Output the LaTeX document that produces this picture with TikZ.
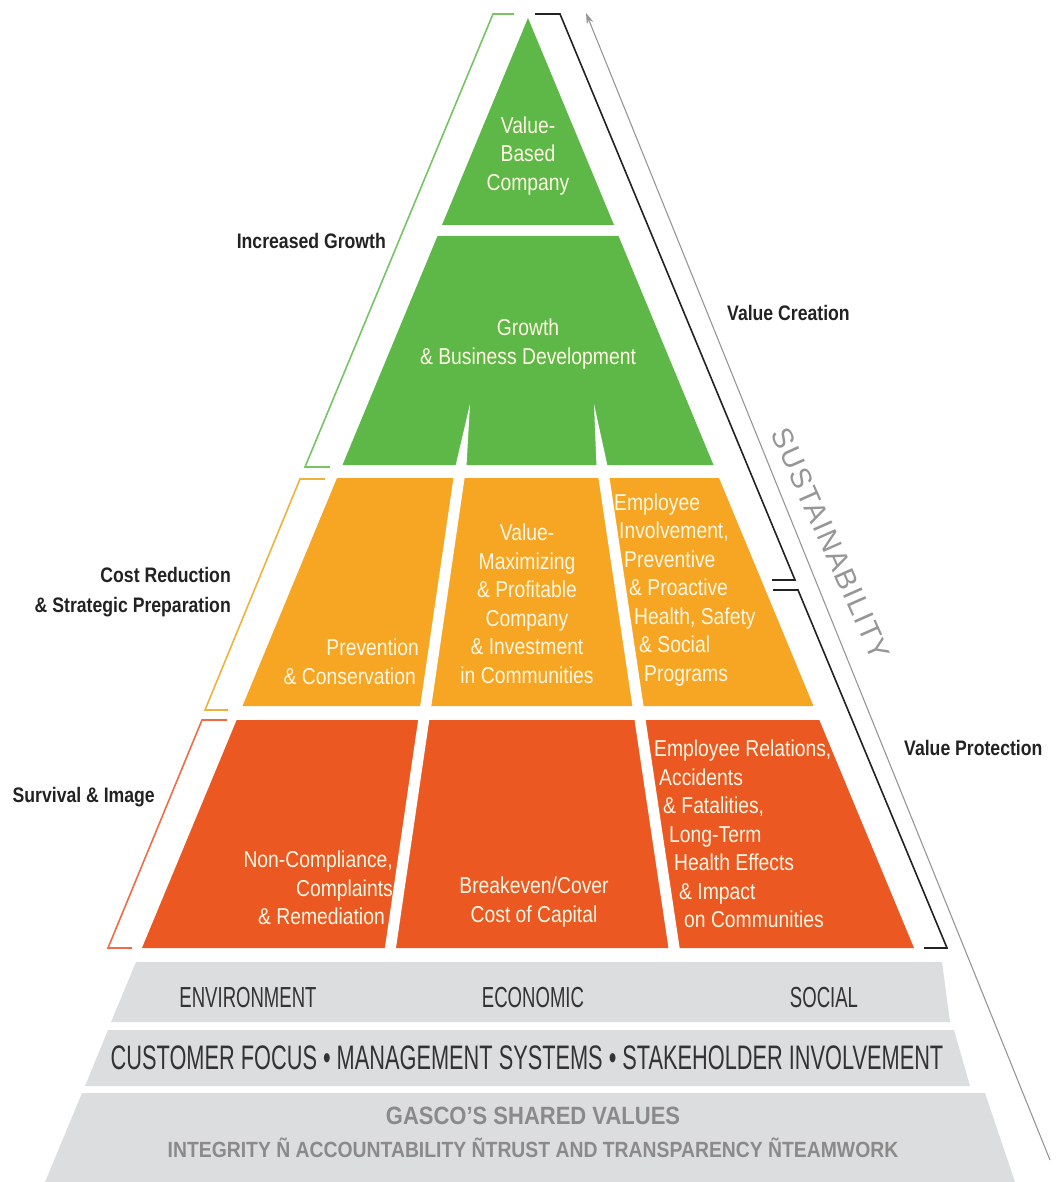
\documentclass[tikz,border=0pt]{standalone}
\usepackage{fontspec}
\setmainfont{Liberation Sans}
\newfontfamily\blockfont{Liberation Sans}[FakeStretch=0.84]
\newfontfamily\labelfont{Liberation Sans}[FakeStretch=0.84]
\newfontfamily\bandfont{Liberation Sans}[FakeStretch=0.64]
\newfontfamily\valuefont{Liberation Sans}[FakeStretch=0.88]
\newfontfamily\sustfont{Liberation Sans}[LetterSpace=5]
\usetikzlibrary{arrows.meta}

\definecolor{pyrgreen}{RGB}{94,184,72}
\definecolor{pyrorange}{RGB}{246,166,35}
\definecolor{pyrred}{RGB}{235,88,34}
\definecolor{bandgray}{RGB}{220,221,223}
\definecolor{blocktext}{RGB}{255,247,228}
\definecolor{labelgray}{RGB}{34,34,34}
\definecolor{bandtext}{RGB}{51,51,51}
\definecolor{valuegray}{RGB}{138,138,138}
\definecolor{arrowgray}{RGB}{150,150,150}
\definecolor{brkgreen}{RGB}{120,195,100}
\definecolor{brkorange}{RGB}{240,178,60}
\definecolor{brkred}{RGB}{238,108,70}

\begin{document}
\begin{tikzpicture}[x=1pt, y=-1pt,
                    block_text/.style={text=blocktext, inner sep=0pt,
                      font=\blockfont\fontsize{23}{28.5}\selectfont},
                    side_label/.style={text=labelgray, inner sep=0pt,
                      font=\labelfont\bfseries\fontsize{21}{30}\selectfont},
                    band_text/.style={text=bandtext, inner sep=0pt,
                      font=\bandfont\fontsize{29}{32}\selectfont},
                    bracket/.style={line width=1.6pt}
   ]
   \useasboundingbox (0,0) rectangle (1059,1182);
   % pyramid levels
   \fill[pyrgreen] (528,18) -- (614,225) -- (442,225) -- cycle;
   \fill[pyrgreen] (437.5,236) -- (618.5,236) -- (713.5,465) -- (342.5,465) -- cycle;
   \fill[pyrorange] (337,478) -- (719,478) -- (813.5,706) -- (242.5,706) -- cycle;
   \fill[pyrred] (236.7,720) -- (819.3,720) -- (914,948) -- (142,948) -- cycle;
   % white dividers
   \fill[white] (470,404) -- (466.5,466) -- (455.5,466) -- cycle;
   \fill[white] (594,404) -- (607.5,466) -- (596.5,466) -- cycle;
   \draw[white, line width=11pt] (460.2,470) -- (389.4,955);
   \draw[white, line width=11pt] (602.8,470) -- (675.1,955);
   % base bands
   \fill[bandgray] (136,962) -- (942,962) -- (950,1022) -- (111,1022) -- cycle;
   \fill[bandgray] (108,1030) -- (954,1030) -- (970,1086) -- (85,1086) -- cycle;
   \fill[bandgray] (82,1093) -- (985,1093) -- (1015,1182) -- (45,1182) -- cycle;

   % brackets
   \draw[bracket, brkgreen] (514,14) -- (493,14) -- (305,467) -- (330,467);
   \draw[bracket, brkorange] (325,479) -- (300,479) -- (205,710) -- (228,710);
   \draw[bracket, brkred] (227,720) -- (202,720) -- (108,948) -- (132,948);
   \draw[bracket, labelgray] (535,14) -- (560,14) -- (795,580) -- (772,580);
   \draw[bracket, labelgray] (773,590) -- (798,590) -- (947,948) -- (924,948);

   % sustainability arrow
   \coordinate (sus_start) at (1050,1160);
   \coordinate (sus_end) at (586,13);
   \draw[arrowgray, line width=1.1pt, -{Stealth[length=11pt, width=7pt]}] (sus_start) -- (sus_end);
   \node[rotate=-66, text=arrowgray, inner sep=0pt,
         font=\sustfont\fontsize{29}{30}\selectfont] (sus) at (831,544) {SUSTAINABILITY};

   % block texts
   \node[block_text, align=center] (vbc) at (528,156) {Value-\\Based\\Company};
   \node[block_text, align=center] (gbd) at (528,344) {Growth\\\& Business Development};
   \node[block_text, align=right, anchor=east] (pc) at (419,662)
        {Prevention\\\& Conservation\hspace*{3pt}};
   \node[block_text, align=center] (vmp) at (527,604)
        {Value-\\Maximizing\\\& Profitable\\Company\\\& Investment\\in Communities};
   \node[block_text, align=left, anchor=west] (eip) at (614,590)
        {Employee\\\hspace*{5pt}Involvement,\\\hspace*{10pt}Preventive\\\hspace*{15pt}\& Proactive\\\hspace*{20pt}Health, Safety\\\hspace*{25pt}\& Social\\\hspace*{30pt}Programs};
   \node[block_text, align=right, anchor=east] (ncr) at (393,888)
        {Non-Compliance,\\Complaints\hspace*{4pt}\\\& Remediation\hspace*{8pt}};
   \node[block_text, align=center] (bcc) at (534,902) {Breakeven/Cover\\Cost of Capital};
   \node[block_text, align=left, anchor=west] (erc) at (654,834)
        {Employee Relations,\\\hspace*{5pt}Accidents\\\hspace*{9pt}\& Fatalities,\\\hspace*{15pt}Long-Term\\\hspace*{20pt}Health Effects\\\hspace*{25pt}\& Impact\\\hspace*{30pt}on Communities};

   % side labels
   \node[side_label, anchor=east] (ig) at (386,241) {Increased Growth};
   \node[side_label, anchor=east, align=right] (crs) at (231,592) {Cost Reduction\\\& Strategic Preparation};
   \node[side_label, anchor=east] (si) at (155,797) {Survival \& Image};
   \node[side_label, anchor=west] (vc) at (727,313) {Value Creation};
   \node[side_label, anchor=west] (vp) at (904,748) {Value Protection};

   % base texts
   \node[band_text] (env) at (248,998) {ENVIRONMENT};
   \node[band_text] (eco) at (533,998) {ECONOMIC};
   \node[band_text] (soc) at (824,998) {SOCIAL};
   \node[band_text, font=\bandfont\fontsize{34}{36}\selectfont] (cms) at (527,1058)
        {CUSTOMER FOCUS \textbullet{} MANAGEMENT SYSTEMS \textbullet{} STAKEHOLDER INVOLVEMENT};
   \node[text=valuegray, inner sep=0pt, font=\valuefont\bfseries\fontsize{25}{27}\selectfont] (gsv) at (533,1116)
        {GASCO’S SHARED VALUES};
   \node[text=valuegray, inner sep=0pt, font=\valuefont\bfseries\fontsize{22}{24}\selectfont] (iat) at (533,1148)
        {INTEGRITY Ñ ACCOUNTABILITY ÑTRUST AND TRANSPARENCY ÑTEAMWORK};
\end{tikzpicture}
\end{document}
